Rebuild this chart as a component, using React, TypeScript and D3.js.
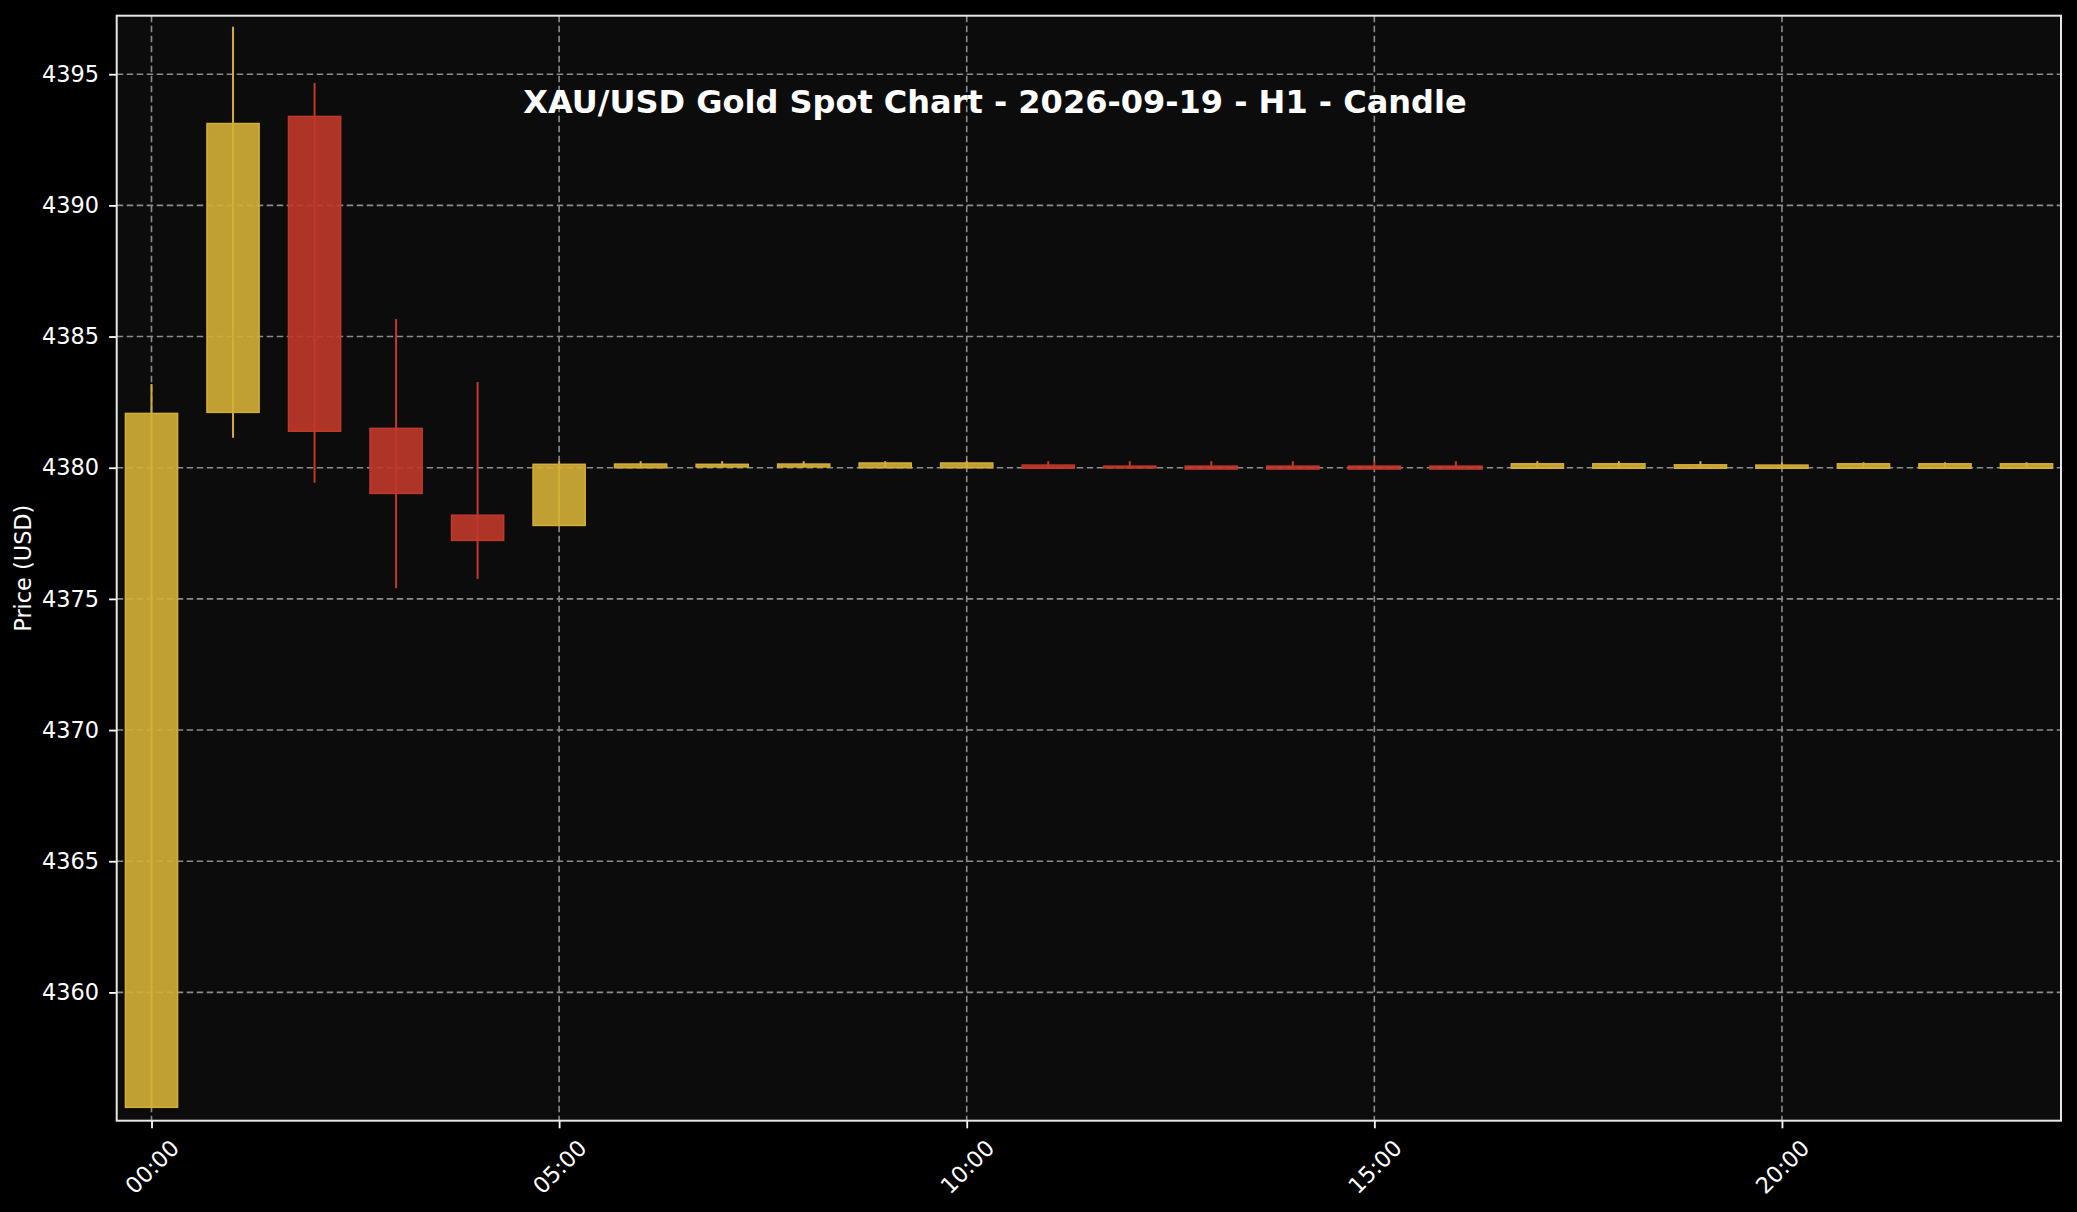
import { useEffect, useRef } from 'react';
import * as d3 from 'd3';

const W = 2077;
const H = 1212;
const MARGIN = { top: 15.7, right: 16, bottom: 91.3, left: 116.7 };

const color = {
  figure: '#000000',
  axes: '#0c0c0c',
  grid: '#8c8c8c',
  spine: '#e6e6e6',
  text: '#ffffff',
  up: '#D4AF37',
  down: '#C0392B',
};

// hourly OHLC
const hours = [
  0, 1, 2, 3, 4, 5, 6, 7, 8, 9, 10, 11, 12, 13, 14, 15, 16, 17, 18, 19, 20, 21, 22, 23,
];
const opens = [
  4355.62, 4382.11, 4393.39, 4381.5, 4378.19, 4377.8, 4380.0, 4380.03, 4380.03, 4380.0, 4380.0, 4380.1,
  4380.06, 4380.06, 4380.06, 4380.06, 4380.06, 4379.98, 4379.98, 4379.98, 4379.98, 4379.98, 4379.98, 4379.98,
];
const highs = [
  4383.19, 4396.81, 4394.66, 4385.67, 4383.27, 4380.25, 4380.25, 4380.25, 4380.25, 4380.25, 4380.25, 4380.25,
  4380.25, 4380.25, 4380.25, 4380.22, 4380.25, 4380.25, 4380.25, 4380.25, 4380.21, 4380.21, 4380.21, 4380.21,
];
const lows = [
  4355.62, 4381.14, 4379.43, 4375.41, 4375.76, 4377.8, 4380.0, 4380.03, 4380.03, 4380.0, 4379.98, 4379.98,
  4379.99, 4379.95, 4379.95, 4379.95, 4379.95, 4379.98, 4379.98, 4379.98, 4379.98, 4379.98, 4379.98, 4379.98,
];
const closes = [
  4382.07, 4393.12, 4381.39, 4379.02, 4377.23, 4380.13, 4380.14, 4380.13, 4380.14, 4380.18, 4380.18, 4379.98,
  4379.99, 4379.95, 4379.95, 4379.95, 4379.95, 4380.15, 4380.15, 4380.11, 4380.1, 4380.15, 4380.15, 4380.15,
];

const yTicks = [4360, 4365, 4370, 4375, 4380, 4385, 4390, 4395];
const xTicks = [0, 5, 10, 15, 20];
const xTickLabels = ['00:00', '05:00', '10:00', '15:00', '20:00'];

const TITLE = 'XAU/USD Gold Spot Chart - 2026-09-19 - H1 - Candle';
const Y_LABEL = 'Price (USD)';
const BODY_WIDTH = 0.64;

const FONT = '"DejaVu Sans", Verdana, sans-serif';
const LABEL_SIZE = 22.4;

const App = () => {
  const svgRef = useRef<SVGSVGElement>(null);

  useEffect(() => {
    document.body.style.margin = '0';
    document.body.style.background = color.figure;

    const svg = d3.select(svgRef.current);
    svg.selectAll('*').remove();

    const x0 = MARGIN.left;
    const x1 = W - MARGIN.right;
    const y0 = MARGIN.top;
    const y1 = H - MARGIN.bottom;

    const xScale = d3.scaleLinear().domain([-0.427, 23.423]).range([x0, x1]);
    const yScale = d3.scaleLinear().domain([4355.11, 4397.23]).range([y1, y0]);

    svg.append('rect').attr('width', W).attr('height', H).attr('fill', color.figure);
    svg
      .append('rect')
      .attr('x', x0)
      .attr('y', y0)
      .attr('width', x1 - x0)
      .attr('height', y1 - y0)
      .attr('fill', color.axes);

    // grid
    const grid = svg.append('g');
    grid
      .selectAll('line.h')
      .data(yTicks)
      .join('line')
      .attr('x1', x0)
      .attr('x2', x1)
      .attr('y1', d => yScale(d))
      .attr('y2', d => yScale(d))
      .attr('stroke', color.grid)
      .attr('stroke-width', 1.6)
      .attr('stroke-dasharray', '6.5,3.5');
    grid
      .selectAll('line.v')
      .data(xTicks)
      .join('line')
      .attr('class', 'v')
      .attr('y1', y0)
      .attr('y2', y1)
      .attr('x1', d => xScale(d))
      .attr('x2', d => xScale(d))
      .attr('stroke', color.grid)
      .attr('stroke-width', 1.6)
      .attr('stroke-dasharray', '6.5,3.5');

    // candles
    const candles = hours.map((h, i) => ({ h, o: opens[i], hi: highs[i], lo: lows[i], c: closes[i] }));
    const g = svg.append('g');
    g.selectAll('line.wick')
      .data(candles)
      .join('line')
      .attr('x1', d => xScale(d.h))
      .attr('x2', d => xScale(d.h))
      .attr('y1', d => yScale(d.hi))
      .attr('y2', d => yScale(d.lo))
      .attr('stroke', d => (d.c >= d.o ? color.up : color.down))
      .attr('stroke-width', 2);
    g.selectAll('rect.body')
      .data(candles)
      .join('rect')
      .attr('x', d => xScale(d.h - BODY_WIDTH / 2))
      .attr('width', d => xScale(d.h + BODY_WIDTH / 2) - xScale(d.h - BODY_WIDTH / 2))
      .attr('y', d => yScale(Math.max(d.o, d.c)))
      .attr('height', d => Math.max(1, yScale(Math.min(d.o, d.c)) - yScale(Math.max(d.o, d.c))))
      .attr('fill', d => (d.c >= d.o ? color.up : color.down))
      .attr('fill-opacity', 0.9)
      .attr('stroke', d => (d.c >= d.o ? color.up : color.down))
      .attr('stroke-width', 1.5);

    // axes
    const yAxis = d3
      .axisLeft(yScale)
      .tickValues(yTicks)
      .tickSize(7.6)
      .tickPadding(10)
      .tickSizeOuter(0)
      .tickFormat(d => String(d));
    const yg = svg.append('g').attr('transform', `translate(${x0},0)`).call(yAxis);
    yg.select('.domain').remove();
    yg.selectAll('.tick line').attr('stroke', color.text).attr('stroke-width', 1.8);
    yg.selectAll('.tick text')
      .attr('fill', color.text)
      .attr('font-family', FONT)
      .attr('font-size', LABEL_SIZE);

    const xAxis = d3
      .axisBottom(xScale)
      .tickValues(xTicks)
      .tickSize(7.6)
      .tickSizeOuter(0)
      .tickFormat((_, i) => xTickLabels[i]);
    const xg = svg.append('g').attr('transform', `translate(0,${y1})`).call(xAxis);
    xg.select('.domain').remove();
    xg.selectAll('.tick line').attr('stroke', color.text).attr('stroke-width', 1.8);
    xg.selectAll('.tick text')
      .attr('fill', color.text)
      .attr('font-family', FONT)
      .attr('font-size', LABEL_SIZE)
      .attr('x', 0)
      .attr('y', 46)
      .attr('dy', null)
      .attr('text-anchor', 'middle')
      .attr('dominant-baseline', 'central')
      .attr('transform', 'rotate(-45, 0, 46)');

    // spines
    svg
      .append('rect')
      .attr('x', x0)
      .attr('y', y0)
      .attr('width', x1 - x0)
      .attr('height', y1 - y0)
      .attr('fill', 'none')
      .attr('stroke', color.spine)
      .attr('stroke-width', 2);

    // labels
    svg
      .append('text')
      .attr('transform', `translate(23,${(y0 + y1) / 2}) rotate(-90)`)
      .attr('text-anchor', 'middle')
      .attr('dominant-baseline', 'central')
      .attr('fill', color.text)
      .attr('font-family', FONT)
      .attr('font-size', LABEL_SIZE)
      .text(Y_LABEL);

    svg
      .append('text')
      .attr('x', 995)
      .attr('y', 112.7)
      .attr('text-anchor', 'middle')
      .attr('fill', color.text)
      .attr('font-family', FONT)
      .attr('font-weight', 'bold')
      .attr('font-size', 32)
      .text(TITLE);
  }, []);

  return (
    <svg
      ref={svgRef}
      width={W}
      height={H}
      style={{ position: 'absolute', left: 0, top: 0, display: 'block' }}
    />
  );
};

export default App;
